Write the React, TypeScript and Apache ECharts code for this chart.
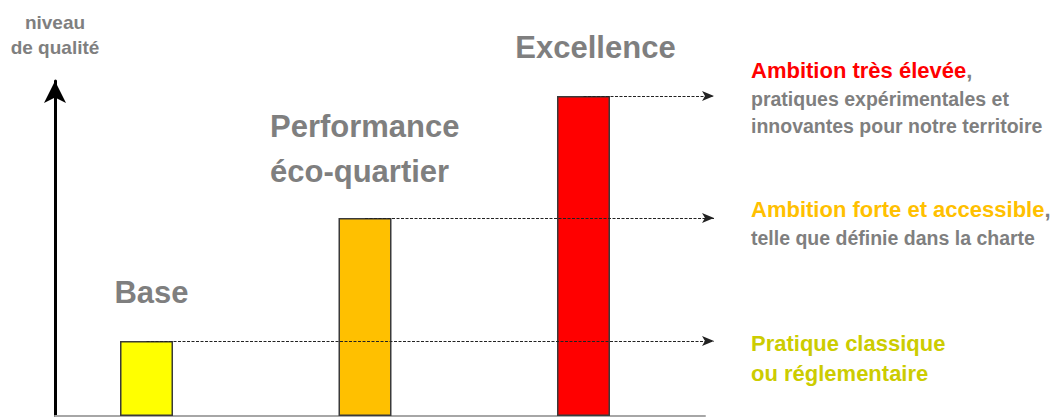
import React, { useEffect, useRef } from 'react';
import * as echarts from 'echarts';

// ---- data ----
const categories = ['Base', 'Performance\néco-quartier', 'Excellence'];
const qualityLevels = [75, 198, 320];
const barColors = ['#ffff00', '#ffc000', '#ff0000'];
const axisTitle = 'niveau\nde qualité';
const noteTitles = [
  ['Pratique classique', 'ou réglementaire'],
  ['Ambition forte et accessible'],
  ['Ambition très élevée'],
];
const noteTexts = [
  [],
  ['telle que définie dans la charte'],
  ['pratiques expérimentales et', 'innovantes pour notre territoire'],
];
const noteColors = ['#cccc00', '#ffc000', '#ff0000'];

// ---- layout / style ----
const FONT = '"Liberation Sans", Arial, sans-serif';
const GRAY = '#7f7f7f';
const labelLayout: any[] = [
  { offset: [5, 0] },
  { align: 'left', offset: [-95, 2] },
  { offset: [12, 0] },
];
const noteTop = [343, 209, 70.5];
const NOTE_X = 751;

function buildNotes() {
  const els: any[] = [];
  noteTitles.forEach((titles, i) => {
    let y = noteTop[i];
    const body = noteTexts[i];
    titles.forEach((t, j) => {
      if (j > 0) y += 30.5;
      const last = j === titles.length - 1;
      const text = last && body.length ? `{h|${t}}{c|,}` : `{h|${t}}`;
      els.push({
        type: 'text',
        x: NOTE_X,
        y,
        silent: true,
        style: {
          text,
          fill: GRAY,
          fontSize: 22,
          fontWeight: 'bold',
          fontFamily: FONT,
          align: 'left',
          verticalAlign: 'middle',
          rich: {
            h: { fill: noteColors[i], fontSize: 22, fontWeight: 'bold', fontFamily: FONT },
            c: { fill: GRAY, fontSize: 22, fontWeight: 'bold', fontFamily: FONT },
          },
        },
      });
    });
    body.forEach((t, j) => {
      y += j === 0 ? 28.5 : 26.5;
      els.push({
        type: 'text',
        x: NOTE_X,
        y,
        silent: true,
        style: {
          text: t,
          fill: GRAY,
          fontSize: 19.5,
          fontWeight: 'bold',
          fontFamily: FONT,
          align: 'left',
          verticalAlign: 'middle',
        },
      });
    });
  });
  return els;
}

export default function App() {
  const ref = useRef<HTMLDivElement>(null);
  useEffect(() => {
    if (!ref.current) return;
    const chart = echarts.init(ref.current, null, { renderer: 'svg' });
    const option: any = {
      animation: false,
      backgroundColor: '#ffffff',
      grid: [
        { left: 55, right: 355, top: 81, bottom: 1 },
        { left: 37.25, right: 367.25, top: 96, bottom: 1 },
      ],
      xAxis: [
        {
          gridIndex: 0,
          type: 'value',
          min: 0,
          max: 1,
          axisLine: { show: true, onZero: false, lineStyle: { color: '#a6a6a6', width: 2 } },
          axisTick: { show: false },
          axisLabel: { show: false },
          splitLine: { show: false },
        },
        { gridIndex: 1, type: 'category', data: categories, show: false },
      ],
      yAxis: [
        {
          gridIndex: 0,
          type: 'value',
          min: 0,
          max: 1,
          name: axisTitle,
          nameLocation: 'end',
          nameGap: 21.5,
          nameTextStyle: {
            color: GRAY,
            fontSize: 19,
            fontWeight: 'bold',
            fontFamily: FONT,
            lineHeight: 25,
            align: 'center',
          },
          axisLine: {
            show: true,
            symbol: ['none', 'arrow'],
            symbolSize: [16.5, 22],
            lineStyle: { color: '#000000', width: 3 },
          },
          axisTick: { show: false },
          axisLabel: { show: false },
          splitLine: { show: false },
        },
        { gridIndex: 1, type: 'value', min: 0, max: 320, show: false },
      ],
      series: [
        {
          type: 'bar',
          xAxisIndex: 1,
          yAxisIndex: 1,
          barWidth: 53,
          silent: true,
          itemStyle: { borderColor: '#3a3a3a', borderWidth: 1.5 },
          label: {
            show: true,
            position: 'top',
            distance: 26,
            formatter: '{b}',
            color: GRAY,
            fontSize: 31,
            fontWeight: 'bold',
            fontFamily: FONT,
            lineHeight: 45,
          },
          data: qualityLevels.map((v, i) => ({
            value: v,
            itemStyle: { color: barColors[i] },
            label: labelLayout[i],
          })),
          markLine: {
            silent: true,
            animation: false,
            symbol: ['none', 'arrow'],
            symbolSize: [0, 12],
            label: { show: false },
            emphasis: { disabled: true },
            lineStyle: { color: '#222222', width: 1, type: [3, 1.5] },
            data: qualityLevels.map((v, i) => [
              { coord: [i, v], symbol: 'none' },
              { coord: [i, v], x: 714, symbolSize: [7.5, 12] },
            ]),
          },
        },
      ],
      graphic: buildNotes(),
    };
    chart.setOption(option);
    return () => chart.dispose();
  }, []);
  return (
    <div
      ref={ref}
      style={{ position: 'fixed', left: 0, top: 0, width: 1060, height: 417, background: '#fff' }}
    />
  );
}
